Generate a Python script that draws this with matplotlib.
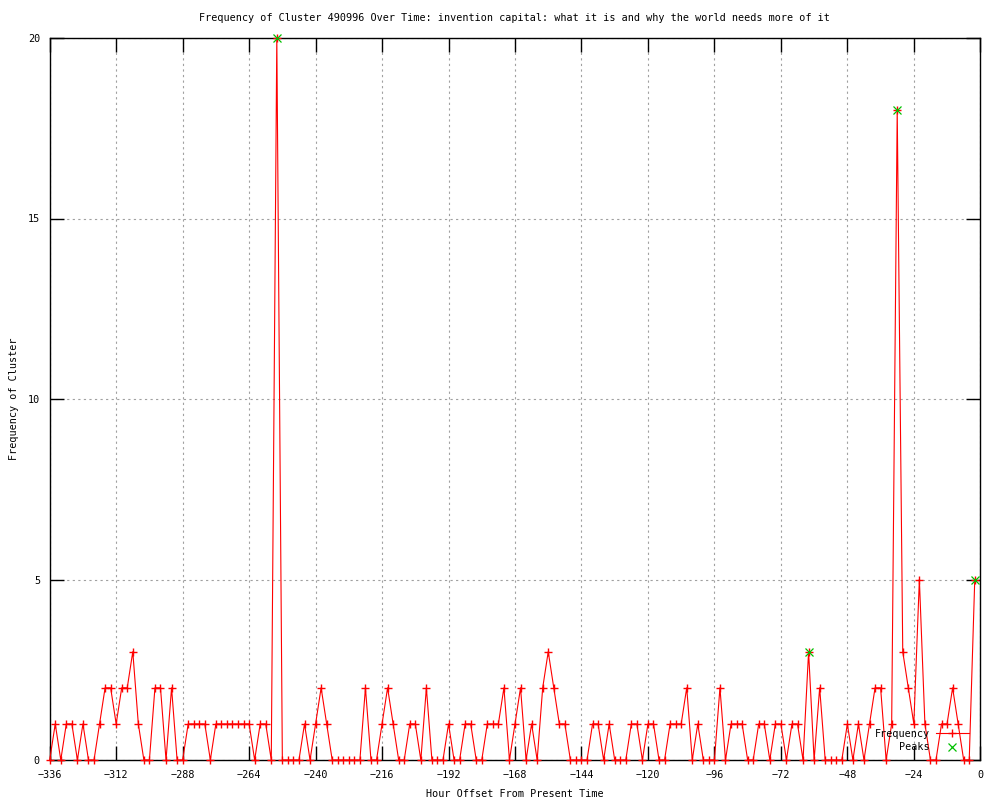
import matplotlib
matplotlib.use("Agg")
import matplotlib.pyplot as plt

# two-hour bins, oldest first
hours = list(range(-336, 0, 2))
frequency = [
    0, 1, 0, 1, 1, 0, 1, 0, 0, 1, 2, 2, 1, 2, 2, 3, 1, 0, 0, 2,
    2, 0, 2, 0, 0, 1, 1, 1, 1, 0, 1, 1, 1, 1, 1, 1, 1, 0, 1, 1,
    0, 20, 0, 0, 0, 0, 1, 0, 1, 2, 1, 0, 0, 0, 0, 0, 0, 2, 0, 0,
    1, 2, 1, 0, 0, 1, 1, 0, 2, 0, 0, 0, 1, 0, 0, 1, 1, 0, 0, 1,
    1, 1, 2, 0, 1, 2, 0, 1, 0, 2, 3, 2, 1, 1, 0, 0, 0, 0, 1, 1,
    0, 1, 0, 0, 0, 1, 1, 0, 1, 1, 0, 0, 1, 1, 1, 2, 0, 1, 0, 0,
    0, 2, 0, 1, 1, 1, 0, 0, 1, 1, 0, 1, 1, 0, 1, 1, 0, 3, 0, 2,
    0, 0, 0, 0, 1, 0, 1, 0, 1, 2, 2, 0, 1, 18, 3, 2, 1, 5, 1, 0,
    0, 1, 1, 2, 1, 0, 0, 5,
]
peak_hours = [-254, -62, -30, -2]
peak_values = [20, 3, 18, 5]

x_ticks = list(range(-336, 1, 24))
y_ticks = [0, 5, 10, 15, 20]

title = "Frequency of Cluster 490996 Over Time: invention capital: what it is and why the world needs more of it"

plt.rcParams["font.family"] = "DejaVu Sans Mono"
plt.rcParams["font.size"] = 7.3

fig = plt.figure(figsize=(10, 8), dpi=100)
ax = fig.add_axes([0.0497, 0.05, 0.9306, 0.9025])

ax.plot(hours, frequency, color="#ff0000", linewidth=0.8, marker="+",
        markersize=6, markeredgewidth=1.0, clip_on=False, label="Frequency", zorder=3)
ax.plot(peak_hours, peak_values, linestyle="none", color="#00c000", marker="x",
        markersize=5.5, markeredgewidth=0.9, clip_on=False, label="Peaks", zorder=4)

ax.set_xlim(-336, 0)
ax.set_ylim(0, 20)
ax.set_xticks(x_ticks)
ax.set_yticks(y_ticks)
ax.tick_params(direction="in", length=10, width=1, top=True, right=True, pad=7)
ax.grid(True, color="#a0a0a0", linestyle=(0, (2, 3)), linewidth=0.8)
ax.set_axisbelow(True)
for spine in ax.spines.values():
    spine.set_linewidth(1.0)

ax.set_xlabel("Hour Offset From Present Time", labelpad=7)
ax.set_ylabel("Frequency of Cluster")
ax.yaxis.set_label_coords(-0.033, 0.5)
fig.text(0.514, 0.977, title, ha="center", va="center")

ax.legend(loc="lower right", bbox_to_anchor=(0.995, 0.001), frameon=False,
          markerfirst=False, handlelength=3.2, handletextpad=0.6,
          labelspacing=0.35, borderpad=0.2)

fig.savefig("out.png", dpi=100, facecolor="white")
